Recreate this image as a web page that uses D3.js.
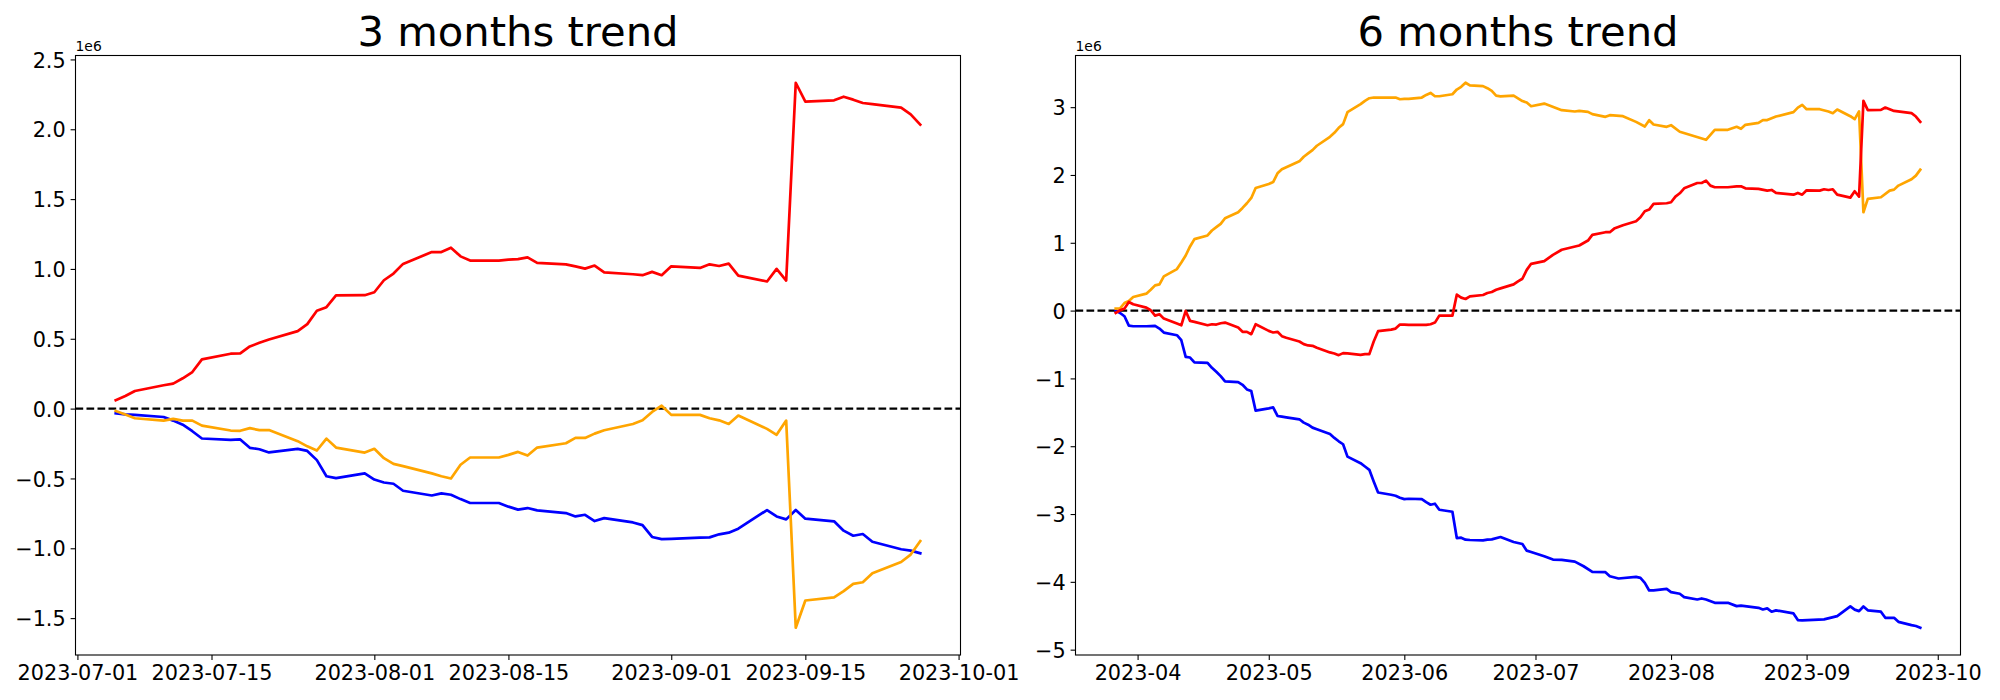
<!DOCTYPE html>
<html><head><meta charset="utf-8">
<script src="https://cdn.jsdelivr.net/npm/d3@7"></script>
<style>
body{margin:0;background:#fff}
svg{display:block}
text{font-family:"DejaVu Sans",sans-serif;fill:#000}
</style>
</head><body>
<svg id="chart" width="2000" height="700"></svg>
<script>
// ---------------- 3 months panel (values in units of 1e6) ----------------
const dates3 = ["2023-07-05","2023-07-06","2023-07-07","2023-07-10","2023-07-11","2023-07-12","2023-07-13","2023-07-14","2023-07-17","2023-07-18","2023-07-19","2023-07-20","2023-07-21","2023-07-24","2023-07-25","2023-07-26","2023-07-27","2023-07-28","2023-07-31",
"2023-08-01","2023-08-02","2023-08-03","2023-08-04","2023-08-07","2023-08-08","2023-08-09","2023-08-10","2023-08-11","2023-08-14","2023-08-15","2023-08-16","2023-08-17","2023-08-18","2023-08-21","2023-08-22","2023-08-23","2023-08-24","2023-08-25","2023-08-28","2023-08-29","2023-08-30","2023-08-31",
"2023-09-01","2023-09-04","2023-09-05","2023-09-06","2023-09-07","2023-09-08","2023-09-11","2023-09-12","2023-09-13","2023-09-14","2023-09-15","2023-09-18","2023-09-19","2023-09-20","2023-09-21","2023-09-22","2023-09-25","2023-09-26","2023-09-27"];
const red3 = [0.060,0.090,0.126,0.167,0.179,0.217,0.262,0.352,0.393,0.395,0.445,0.471,0.495,0.555,0.605,0.700,0.726,0.810,0.812,
0.833,0.919,0.967,1.036,1.121,1.121,1.152,1.090,1.060,1.060,1.066,1.070,1.083,1.043,1.033,1.018,1.002,1.024,0.976,0.962,0.955,0.979,0.955,
1.019,1.007,1.033,1.021,1.038,0.952,0.910,1.000,0.917,2.333,2.198,2.207,2.233,2.212,2.188,2.180,2.155,2.107,2.033];
const orange3 = [-0.017,-0.043,-0.069,-0.086,-0.074,-0.086,-0.086,-0.122,-0.157,-0.159,-0.140,-0.154,-0.154,-0.233,-0.270,-0.300,-0.215,-0.279,-0.315,
-0.288,-0.355,-0.396,-0.412,-0.464,-0.484,-0.500,-0.402,-0.350,-0.350,-0.331,-0.310,-0.336,-0.279,-0.248,-0.210,-0.210,-0.179,-0.155,-0.110,-0.084,-0.024,0.021,
-0.045,-0.045,-0.069,-0.084,-0.110,-0.050,-0.145,-0.188,-0.086,-1.569,-1.374,-1.352,-1.307,-1.255,-1.243,-1.179,-1.098,-1.045,-0.948];
const blue3 = [-0.034,-0.041,-0.045,-0.060,-0.086,-0.115,-0.162,-0.214,-0.224,-0.221,-0.281,-0.291,-0.314,-0.288,-0.303,-0.369,-0.484,-0.498,-0.464,
-0.508,-0.529,-0.538,-0.588,-0.622,-0.607,-0.617,-0.648,-0.676,-0.676,-0.702,-0.723,-0.712,-0.729,-0.748,-0.772,-0.760,-0.805,-0.784,-0.815,-0.834,-0.919,-0.934,
-0.932,-0.924,-0.922,-0.900,-0.888,-0.860,-0.726,-0.772,-0.793,-0.726,-0.788,-0.807,-0.874,-0.910,-0.898,-0.953,-1.007,-1.017,-1.036];
const xTicks3 = ["2023-07-01","2023-07-15","2023-08-01","2023-08-15","2023-09-01","2023-09-15","2023-10-01"];
const yTicks3 = [-1.5,-1.0,-0.5,0.0,0.5,1.0,1.5,2.0,2.5];
const yTickLabels3 = ["\u22121.5","\u22121.0","\u22120.5","0.0","0.5","1.0","1.5","2.0","2.5"];

// ---------------- 6 months panel (values in units of 1e6) ----------------
const orange6Dates = ["2023-03-27","2023-03-28","2023-03-29","2023-03-30","2023-03-31","2023-04-03","2023-04-04","2023-04-05","2023-04-06","2023-04-07","2023-04-10","2023-04-11","2023-04-12","2023-04-13","2023-04-14","2023-04-17","2023-04-18","2023-04-19","2023-04-20","2023-04-21","2023-04-24","2023-04-25","2023-04-26","2023-04-27","2023-04-28",
"2023-05-01","2023-05-02","2023-05-03","2023-05-04","2023-05-05","2023-05-08","2023-05-09","2023-05-10","2023-05-11","2023-05-12","2023-05-15","2023-05-16","2023-05-17","2023-05-18","2023-05-19","2023-05-22","2023-05-23","2023-05-24","2023-05-25","2023-05-26","2023-05-29","2023-05-30","2023-05-31",
"2023-06-01","2023-06-02","2023-06-05","2023-06-06","2023-06-07","2023-06-08","2023-06-09","2023-06-12","2023-06-13","2023-06-14","2023-06-15","2023-06-16","2023-06-19","2023-06-20","2023-06-21","2023-06-22","2023-06-23","2023-06-26","2023-06-27","2023-06-28","2023-06-29","2023-06-30",
"2023-07-03","2023-07-07","2023-07-10","2023-07-11","2023-07-13","2023-07-14","2023-07-17","2023-07-18","2023-07-21","2023-07-24","2023-07-26","2023-07-27","2023-07-28","2023-07-31",
"2023-08-01","2023-08-03","2023-08-09","2023-08-11","2023-08-14","2023-08-16","2023-08-17","2023-08-18","2023-08-21","2023-08-22","2023-08-23","2023-08-25","2023-08-29","2023-08-30","2023-08-31",
"2023-09-01","2023-09-04","2023-09-06","2023-09-07","2023-09-08","2023-09-11","2023-09-12","2023-09-13","2023-09-14","2023-09-15","2023-09-18","2023-09-20","2023-09-21","2023-09-22","2023-09-25","2023-09-26","2023-09-27"];
const orange6Values = [0.030,0.034,0.112,0.142,0.200,0.250,0.308,0.372,0.387,0.504,0.612,0.710,0.813,0.946,1.054,1.108,1.181,1.230,1.279,1.362,1.450,1.514,1.583,1.661,1.808,
1.867,1.896,2.024,2.083,2.113,2.201,2.269,2.318,2.367,2.431,2.563,2.622,2.696,2.750,2.926,3.044,3.093,3.132,3.142,3.142,3.142,3.142,3.117,
3.122,3.122,3.142,3.180,3.210,3.161,3.161,3.191,3.260,3.300,3.360,3.320,3.310,3.280,3.240,3.170,3.160,3.170,3.130,3.090,3.068,3.014,
3.053,2.956,2.936,2.945,2.931,2.897,2.857,2.882,2.867,2.783,2.715,2.808,2.744,2.710,
2.734,2.637,2.519,2.666,2.666,2.710,2.681,2.740,2.769,2.808,2.810,2.862,2.926,2.994,3.034,
2.970,2.970,2.936,2.911,2.965,2.867,2.823,2.936,1.450,1.647,1.671,1.769,1.784,1.843,1.936,1.990,2.078];

const red6Dates = ["2023-03-27","2023-03-28","2023-03-29","2023-03-30","2023-03-31","2023-04-03","2023-04-04","2023-04-05","2023-04-06","2023-04-07","2023-04-10","2023-04-11","2023-04-12","2023-04-13","2023-04-14","2023-04-17","2023-04-18","2023-04-19","2023-04-20","2023-04-21","2023-04-24","2023-04-25","2023-04-26","2023-04-27","2023-04-28",
"2023-05-01","2023-05-02","2023-05-03","2023-05-04","2023-05-05","2023-05-08","2023-05-09","2023-05-10","2023-05-11","2023-05-12","2023-05-15","2023-05-16","2023-05-17","2023-05-18","2023-05-19","2023-05-22","2023-05-23","2023-05-24","2023-05-25","2023-05-26","2023-05-29","2023-05-30","2023-05-31",
"2023-06-01","2023-06-02","2023-06-05","2023-06-06","2023-06-07","2023-06-08","2023-06-09","2023-06-12","2023-06-13","2023-06-14","2023-06-15","2023-06-16","2023-06-19","2023-06-20","2023-06-21","2023-06-22","2023-06-23","2023-06-26","2023-06-27","2023-06-28","2023-06-29","2023-06-30",
"2023-07-03","2023-07-05","2023-07-07","2023-07-11","2023-07-13","2023-07-14","2023-07-17","2023-07-18","2023-07-19","2023-07-21","2023-07-24","2023-07-25","2023-07-26","2023-07-27","2023-07-28","2023-07-31",
"2023-08-01","2023-08-02","2023-08-03","2023-08-04","2023-08-07","2023-08-08","2023-08-09","2023-08-10","2023-08-11","2023-08-14","2023-08-16","2023-08-17","2023-08-18","2023-08-21","2023-08-23","2023-08-24","2023-08-25","2023-08-29","2023-08-30","2023-08-31",
"2023-09-01","2023-09-04","2023-09-05","2023-09-06","2023-09-07","2023-09-08","2023-09-11","2023-09-12","2023-09-13","2023-09-14","2023-09-15","2023-09-18","2023-09-19","2023-09-21","2023-09-25","2023-09-26","2023-09-27"];
const red6Values = [-0.034,0.005,0.029,0.127,0.093,0.044,0.005,-0.074,-0.054,-0.118,-0.191,-0.216,-0.005,-0.152,-0.166,-0.216,-0.201,-0.206,-0.187,-0.177,-0.250,-0.313,-0.313,-0.348,-0.201,
-0.299,-0.323,-0.313,-0.377,-0.401,-0.456,-0.495,-0.514,-0.519,-0.549,-0.617,-0.632,-0.657,-0.627,-0.632,-0.652,-0.642,-0.642,-0.456,-0.304,-0.280,-0.265,-0.206,
-0.206,-0.211,-0.211,-0.211,-0.201,-0.177,-0.074,-0.074,0.235,0.191,0.171,0.210,0.230,0.259,0.274,0.308,0.328,0.387,0.431,0.470,0.600,0.690,
0.730,0.822,0.897,0.960,1.033,1.116,1.156,1.156,1.209,1.258,1.318,1.377,1.465,1.490,1.573,1.583,
1.598,1.681,1.730,1.803,1.882,1.882,1.916,1.843,1.819,1.819,1.833,1.833,1.803,1.794,1.769,1.779,1.735,1.710,1.735,1.710,
1.774,1.769,1.789,1.779,1.789,1.710,1.666,1.760,1.681,3.093,2.956,2.960,2.995,2.945,2.911,2.862,2.784];

const blue6Dates = ["2023-03-27","2023-03-28","2023-03-29","2023-03-30","2023-03-31","2023-04-03","2023-04-05","2023-04-06","2023-04-07","2023-04-10","2023-04-11","2023-04-12","2023-04-13","2023-04-14","2023-04-17","2023-04-18","2023-04-19","2023-04-20","2023-04-21","2023-04-24","2023-04-25","2023-04-26","2023-04-27","2023-04-28",
"2023-05-01","2023-05-02","2023-05-03","2023-05-04","2023-05-05","2023-05-08","2023-05-09","2023-05-10","2023-05-11","2023-05-12","2023-05-15","2023-05-16","2023-05-17","2023-05-18","2023-05-19","2023-05-22","2023-05-23","2023-05-24","2023-05-25","2023-05-26","2023-05-29","2023-05-30","2023-05-31",
"2023-06-01","2023-06-02","2023-06-05","2023-06-06","2023-06-07","2023-06-08","2023-06-09","2023-06-12","2023-06-13","2023-06-14","2023-06-15","2023-06-16","2023-06-19","2023-06-20","2023-06-21","2023-06-23","2023-06-26","2023-06-27","2023-06-28","2023-06-29","2023-06-30",
"2023-07-03","2023-07-05","2023-07-07","2023-07-10","2023-07-12","2023-07-14","2023-07-17","2023-07-18","2023-07-20","2023-07-24","2023-07-25","2023-07-26","2023-07-27","2023-07-28","2023-07-31",
"2023-08-01","2023-08-03","2023-08-04","2023-08-07","2023-08-08","2023-08-09","2023-08-11","2023-08-14","2023-08-16","2023-08-17","2023-08-21","2023-08-22","2023-08-23","2023-08-24","2023-08-25","2023-08-29","2023-08-30","2023-08-31",
"2023-09-05","2023-09-08","2023-09-11","2023-09-12","2023-09-13","2023-09-14","2023-09-15","2023-09-18","2023-09-19","2023-09-21","2023-09-22","2023-09-25","2023-09-26","2023-09-27"];
const blue6Values = [0.004,-0.035,-0.084,-0.221,-0.231,-0.231,-0.226,-0.265,-0.324,-0.363,-0.437,-0.682,-0.692,-0.765,-0.770,-0.844,-0.902,-0.966,-1.045,-1.054,-1.094,-1.162,-1.187,-1.476,
-1.441,-1.427,-1.554,-1.564,-1.574,-1.603,-1.652,-1.682,-1.726,-1.750,-1.819,-1.878,-1.927,-1.971,-2.153,-2.250,-2.299,-2.348,-2.520,-2.682,-2.716,-2.731,-2.760,
-2.780,-2.775,-2.780,-2.824,-2.863,-2.848,-2.937,-2.966,-3.354,-3.349,-3.378,-3.383,-3.388,-3.378,-3.373,-3.339,-3.412,-3.427,-3.442,-3.540,-3.559,
-3.623,-3.672,-3.676,-3.701,-3.770,-3.853,-3.858,-3.917,-3.951,-3.926,-3.941,-4.015,-4.127,-4.127,-4.103,
-4.152,-4.176,-4.225,-4.260,-4.245,-4.260,-4.309,-4.309,-4.358,-4.350,-4.383,-4.407,-4.392,-4.441,-4.421,-4.466,-4.564,-4.569,
-4.554,-4.505,-4.363,-4.410,-4.432,-4.363,-4.420,-4.440,-4.530,-4.530,-4.590,-4.638,-4.652,-4.677];
const xTicks6 = ["2023-04-01","2023-05-01","2023-06-01","2023-07-01","2023-08-01","2023-09-01","2023-10-01"];
const yTicks6 = [-5,-4,-3,-2,-1,0,1,2,3];
const yTickLabels6 = ["\u22125","\u22124","\u22123","\u22122","\u22121","0","1","2","3"];

const seriesColors = {red:"#ff0000", blue:"#0000ff", orange:"#ffa500"};

// ---------------- drawing ----------------
const parse = d3.timeParse("%Y-%m-%d");
const svg = d3.select("#chart");
svg.append("rect").attr("width",2000).attr("height",700).attr("fill","#fff");

const TICK_FS = 20.8, TITLE_FS = 41.7, OFFSET_FS = 13.9, TICK_LEN = 4.9, PAD = 4.9;

function zip(dates, vals){ return dates.map((d,i)=>({date:parse(d), v:vals[i]})); }

function drawPanel(cfg){
  const {x0,x1,y0,y1,title,series,xTicks,xFmt,yTicks,yTickLabels} = cfg;
  const all = series.flatMap(s=>s.data);
  const tExt = d3.extent(all, d=>d.date);
  const vExt = d3.extent(all, d=>d.v);
  const tr = tExt[1]-tExt[0], vr = vExt[1]-vExt[0];
  const x = d3.scaleTime().domain([new Date(+tExt[0]-0.05*tr), new Date(+tExt[1]+0.05*tr)]).range([x0,x1]);
  const y = d3.scaleLinear().domain([vExt[0]-0.05*vr, vExt[1]+0.05*vr]).range([y1,y0]);
  const g = svg.append("g");

  // zero reference line
  g.append("line").attr("x1",x0).attr("x2",x1).attr("y1",y(0)).attr("y2",y(0))
    .attr("stroke","#000").attr("stroke-width",2.08).attr("stroke-dasharray","7.7,3.3");

  const line = d3.line().x(d=>x(d.date)).y(d=>y(d.v));
  series.forEach(s=>{
    g.append("path").datum(s.data).attr("d",line).attr("fill","none")
      .attr("stroke",s.color).attr("stroke-width",2.7)
      .attr("stroke-linejoin","round").attr("stroke-linecap","square");
  });

  // frame
  g.append("rect").attr("x",x0).attr("y",y0).attr("width",x1-x0).attr("height",y1-y0)
    .attr("fill","none").attr("stroke","#000").attr("stroke-width",1.1);

  // x axis
  const xAxis = d3.axisBottom(x).tickValues(xTicks.map(parse)).tickFormat(d3.timeFormat(xFmt))
    .tickSizeInner(TICK_LEN).tickSizeOuter(0).tickPadding(PAD);
  const gx = g.append("g").attr("transform",`translate(0,${y1})`).call(xAxis);
  gx.select(".domain").remove();
  gx.selectAll(".tick line").attr("stroke","#000").attr("stroke-width",1.1);
  gx.selectAll(".tick text").attr("font-size",TICK_FS).attr("font-family","DejaVu Sans")
    .attr("dy",null).attr("y",TICK_LEN+PAD+0.729*TICK_FS+0.3).attr("fill","#000");

  // y axis
  const yAxis = d3.axisLeft(y).tickValues(yTicks).tickFormat((d,i)=>yTickLabels[i])
    .tickSizeInner(TICK_LEN).tickSizeOuter(0).tickPadding(PAD);
  const gy = g.append("g").attr("transform",`translate(${x0},0)`).call(yAxis);
  gy.select(".domain").remove();
  gy.selectAll(".tick line").attr("stroke","#000").attr("stroke-width",1.1);
  gy.selectAll(".tick text").attr("font-size",TICK_FS).attr("font-family","DejaVu Sans")
    .attr("dy",null).attr("y",0.729*TICK_FS/2).attr("fill","#000");

  // offset text & title
  g.append("text").attr("x",x0).attr("y",y0-5).attr("font-size",OFFSET_FS).text("1e6");
  g.append("text").attr("x",(x0+x1)/2).attr("y",46).attr("text-anchor","middle")
    .attr("font-size",TITLE_FS).text(title);
}

drawPanel({
  x0:75.5, x1:960.5, y0:55.5, y1:655,
  title:"3 months trend",
  series:[
    {color:seriesColors.blue, data:zip(dates3, blue3)},
    {color:seriesColors.orange, data:zip(dates3, orange3)},
    {color:seriesColors.red, data:zip(dates3, red3)}
  ],
  xTicks:xTicks3, xFmt:"%Y-%m-%d", yTicks:yTicks3, yTickLabels:yTickLabels3
});

drawPanel({
  x0:1075.5, x1:1960.5, y0:55.5, y1:655,
  title:"6 months trend",
  series:[
    {color:seriesColors.blue, data:zip(blue6Dates, blue6Values)},
    {color:seriesColors.orange, data:zip(orange6Dates, orange6Values)},
    {color:seriesColors.red, data:zip(red6Dates, red6Values)}
  ],
  xTicks:xTicks6, xFmt:"%Y-%m", yTicks:yTicks6, yTickLabels:yTickLabels6
});
</script>
</body></html>
